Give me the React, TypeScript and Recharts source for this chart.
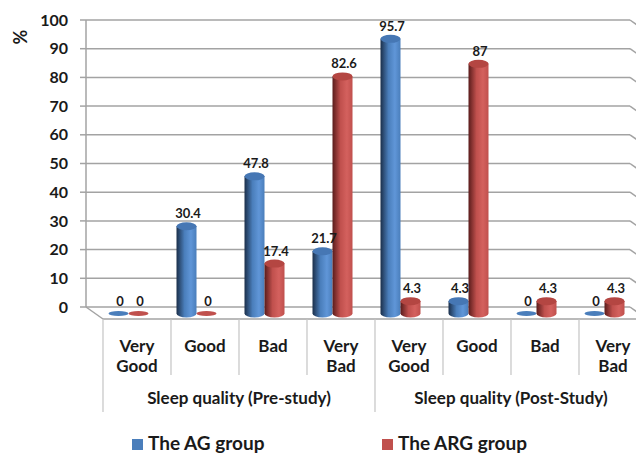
import React from 'react';
import {
  BarChart,
  Bar,
  XAxis,
  YAxis,
  CartesianGrid,
  Legend,
  LabelList,
  Label,
} from 'recharts';

const categories = ['Very Good', 'Good', 'Bad', 'Very Bad'];
const groups = ['Sleep quality (Pre-study)', 'Sleep quality (Post-Study)'];
const seriesNames = ['The AG group', 'The ARG group'];
const agValues = [0, 30.4, 47.8, 21.7, 95.7, 4.3, 0, 0];
const argValues = [0, 0, 17.4, 82.6, 4.3, 87, 4.3, 4.3];
const yTicks = [0, 10, 20, 30, 40, 50, 60, 70, 80, 90, 100];

const data = agValues.map((v, i) => ({
  key: groups[Math.floor(i / categories.length)] + ' - ' + categories[i % categories.length],
  cat: categories[i % categories.length],
  ag: v,
  arg: argValues[i],
}));

const FONT = 'Lato, "Open Sans", sans-serif';
const W = 636;
const H = 455;
const LEFT = 86;
const RIGHT = 6;
const PLOT_W = W - LEFT - RIGHT;
const BAND = PLOT_W / data.length;
// fake 3D depth: front edge of floor vs back wall, and the bars sit half way
const DEPTH_X = 17;
const DEPTH_Y = 12;
const BAR_DX = 8.5;
const BAR_DY = 6.5;
const GRID = '#A3A3A3';

const colors = {
  ag: { dark: '#1b2f4a', mid: '#4a7ebb', light: '#6096d8', top: '#4677b4' },
  arg: { dark: '#5a1c1b', mid: '#c0504d', light: '#d4615e', top: '#b44642' },
};

const Cylinder = (c: any, id: string) => (props: any) => {
  const { x, y, width, height } = props;
  const left = x + BAR_DX;
  const right = left + width;
  const cx = left + width / 2;
  const rx = width / 2;
  const ry = 4;
  const top = y + BAR_DY;
  if (!height || height < 0.5) {
    return <ellipse cx={cx} cy={top} rx={rx} ry={2.5} fill={c.mid} />;
  }
  const bottom = top + height;
  return (
    <g>
      <defs>
        <linearGradient id={id + '-body'} x1="0" y1="0" x2="1" y2="0">
          <stop offset="0%" stopColor={c.dark} />
          <stop offset="40%" stopColor={c.mid} />
          <stop offset="72%" stopColor={c.light} />
          <stop offset="100%" stopColor={c.mid} />
        </linearGradient>
      </defs>
      <path
        d={`M${left},${top} L${left},${bottom} A${rx},${ry} 0 0 0 ${right},${bottom} L${right},${top} Z`}
        fill={`url(#${id}-body)`}
      />
      <ellipse cx={cx} cy={top} rx={rx} ry={ry} fill={c.top} />
    </g>
  );
};

const valueLabel = (props: any) => {
  const { x, y, width, value } = props;
  return (
    <text
      x={x + width / 2 + BAR_DX + 1.5}
      y={y + BAR_DY - 8}
      textAnchor="middle"
      fontFamily={FONT}
      fontWeight={700}
      fontSize={13}
      fill="#1a1a1a"
    >
      {value}
    </text>
  );
};

const gridLine = (props: any) => {
  const { x1, y1, x2, y2, index } = props;
  return (
    <g key={'h-' + index}>
      <line x1={x1} y1={y1} x2={x2} y2={y2} stroke={GRID} strokeWidth={1.5} />
      <line x1={x2} y1={y2} x2={x2 + DEPTH_X} y2={y2 + DEPTH_Y} stroke={GRID} strokeWidth={1.5} />
    </g>
  );
};

const CategoryTick = (props: any) => {
  const { x, y, payload } = props;
  const i = payload.index ?? props.index;
  const row = data[i];
  const words = row.cat.split(' ');
  const frontLeft = x - BAND / 2 + DEPTH_X;
  const floorY = y + DEPTH_Y;
  const groupStart = i % categories.length === 0;
  const textProps = {
    fontFamily: FONT,
    fontWeight: 700,
    fontSize: 17,
    fill: '#1a1a1a',
    textAnchor: 'middle' as const,
  };
  return (
    <g>
      {i === 0 && (
        <g stroke={GRID} strokeWidth={1.5}>
          <line x1={x - BAND / 2} y1={y} x2={frontLeft} y2={floorY} />
          <line x1={frontLeft} y1={floorY} x2={frontLeft + PLOT_W} y2={floorY} />
        </g>
      )}
      <line
        x1={frontLeft}
        y1={floorY}
        x2={frontLeft}
        y2={groupStart ? 412 : 375}
        stroke="#C4C4C4"
        strokeWidth={1.2}
      />
      {words.map((w: string, k: number) => (
        <text key={k} x={x + DEPTH_X} y={352 + k * 20} {...textProps}>
          {w}
        </text>
      ))}
      {groupStart && (
        <text x={frontLeft + (BAND * categories.length) / 2} y={404} {...textProps}>
          {groups[i / categories.length]}
        </text>
      )}
    </g>
  );
};

const renderLegend = () => (
  <div style={{ position: 'relative', height: 22, fontFamily: FONT, fontWeight: 700, fontSize: 19, lineHeight: '22px', color: '#1a1a1a' }}>
    {seriesNames.map((name, i) => (
      <div key={name} style={{ position: 'absolute', left: i === 0 ? 132 : 382, top: 0, whiteSpace: 'nowrap' }}>
        <span
          style={{
            display: 'inline-block',
            width: 11,
            height: 11,
            marginRight: 5,
            background: i === 0 ? colors.ag.mid : colors.arg.mid,
          }}
        />
        {name}
      </div>
    ))}
  </div>
);

export default function App() {
  return (
    <div style={{ position: 'absolute', left: 0, top: 0, width: W, height: H, background: '#fff', overflow: 'hidden' }}>
      <BarChart
        width={W}
        height={H}
        data={data}
        margin={{ top: 20, right: RIGHT, bottom: 0, left: 0 }}
        barSize={20}
        barGap={0}
      >
        <CartesianGrid vertical={false} horizontal={gridLine} />
        <XAxis
          dataKey="key"
          interval={0}
          height={148}
          axisLine={false}
          tickLine={false}
          tickSize={0}
          tickMargin={0}
          tick={CategoryTick}
        />
        <YAxis
          width={LEFT}
          domain={[0, 100]}
          ticks={yTicks}
          interval={0}
          axisLine={{ stroke: GRID, strokeWidth: 1.5 }}
          tickLine={{ stroke: GRID, strokeWidth: 1.5 }}
          tickSize={6}
          tickMargin={12}
          tick={{ fill: '#1a1a1a', fontSize: 16, fontWeight: 700, fontFamily: FONT }}
        >
          <Label
            content={() => (
              <text
                x={20}
                y={37}
                transform="rotate(-90 20 37)"
                textAnchor="middle"
                dominantBaseline="central"
                fontFamily={FONT}
                fontWeight={700}
                fontSize={18}
                fill="#1a1a1a"
              >
                %
              </text>
            )}
          />
        </YAxis>
        <Legend
          layout="horizontal"
          verticalAlign="middle"
          align="center"
          wrapperStyle={{ top: 432, left: 0, width: W }}
          content={renderLegend}
        />
        <Bar dataKey="ag" name={seriesNames[0]} fill={colors.ag.mid} shape={Cylinder(colors.ag, 'ag')} isAnimationActive={false}>
          <LabelList dataKey="ag" content={valueLabel} />
        </Bar>
        <Bar dataKey="arg" name={seriesNames[1]} fill={colors.arg.mid} shape={Cylinder(colors.arg, 'arg')} isAnimationActive={false}>
          <LabelList dataKey="arg" content={valueLabel} />
        </Bar>
      </BarChart>
    </div>
  );
}
